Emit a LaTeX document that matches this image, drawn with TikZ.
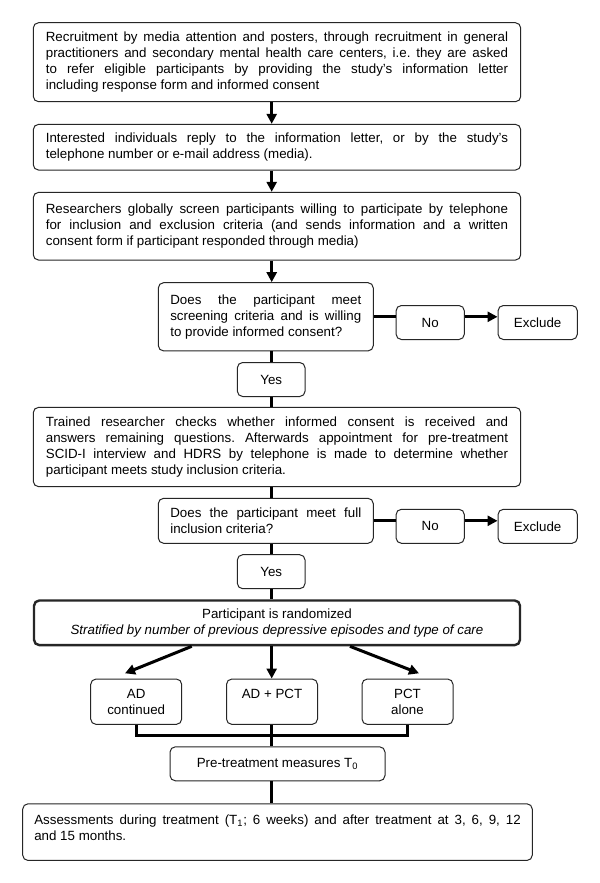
\documentclass[tikz,border=0pt]{standalone}
\usepackage{fontspec}
\setmainfont{Liberation Sans}
\usetikzlibrary{arrows.meta}
\newcommand{\boxfont}{\fontsize{10pt}{12pt}\selectfont\frenchspacing\tolerance=10000\relax\hyphenpenalty=10000\relax}
\begin{document}
\begin{tikzpicture}[x=0.75pt,y=-0.75pt,
  basebox/.style={draw=black!85, line width=0.75pt, rounded corners=4pt, fill=white, inner ysep=0pt,
    font={\boxfont}},
  bigbox/.style={basebox, text width=346.7pt, inner xsep=9.45pt, align=justify, minimum height=#1},
  qbox/.style={basebox, text width=143.25pt, inner xsep=9pt, align=justify, minimum height=#1},
  sbox/.style={basebox, align=center, minimum width=#1, minimum height=25.5pt, inner xsep=0pt},
  armbox/.style={basebox, align=center, minimum width=68.25pt, minimum height=34pt, inner xsep=0pt},
  conn/.style={draw=black, line width=2.25pt},
  arr/.style={conn, -{Triangle[length=7.5pt,width=7.5pt]}},
]
\fill[white] (0,0) rectangle (600,883);
\useasboundingbox (0,0) rectangle (600,883);

\coordinate (spine) at (271.7,0);

\node[bigbox=59.25pt] (rec) at (277,62.2) {Recruitment by media attention and posters, through recruitment in general\linebreak practitioners and secondary mental health care centers, i.e. they are asked\linebreak to refer eligible participants by providing the study’s information letter\linebreak including response form and informed consent};

\node[bigbox=34.3pt] (rep) at (277,147.2) {Interested individuals reply to the information letter, or by the study’s\linebreak telephone number or e-mail address (media).};

\node[bigbox=50.8pt] (scr) at (277,226.2) {Researchers globally screen participants willing to participate by telephone\linebreak for inclusion and exclusion criteria (and sends information and a written\linebreak consent form if participant responded through media)};

\node[qbox=51.2pt] (d1) at (265.8,316.8) {Does the participant meet\linebreak screening criteria and is willing\linebreak to provide informed consent?};
\node[sbox=51.2pt] (no1) at (430.2,322.5) {No};
\node[sbox=59.5pt] (ex1) at (537.7,322.5) {Exclude};
\node[sbox=50.8pt] (yes1) at (271.2,379.5) {Yes};

\node[bigbox=59.5pt] (trn) at (277,447) {Trained researcher checks whether informed consent is received and\linebreak answers remaining questions. Afterwards appointment for pre-treatment\linebreak SCID-I interview and HDRS by telephone is made to determine whether\linebreak participant meets study inclusion criteria.};

\node[qbox=33.75pt] (d2) at (265.8,520.8) {Does the participant meet full\linebreak inclusion criteria?};
\node[sbox=51.2pt] (no2) at (430.2,526.3) {No};
\node[sbox=59.5pt] (ex2) at (537.7,526.3) {Exclude};
\node[sbox=50.8pt] (yes2) at (271.2,571.7) {Yes};

\node[basebox, line width=1.8pt, align=center, minimum width=364.5pt, minimum height=33.5pt, inner xsep=0pt] (rnd) at (277,622.8) {Participant is randomized\\\textit{Stratified by number of previous depressive episodes and type of care}};

\node[armbox] (adc) at (136.2,701.7) {AD\\continued};
\node[armbox] (adp) at (272,701.7) {AD + PCT\\\mbox{}};
\node[armbox] (pct) at (407.5,701.7) {PCT\\alone};

\node[sbox=161.25pt] (pre) at (277.5,763.8) {Pre-treatment measures T\textsubscript{0}};

\node[basebox, text width=364.8pt, inner xsep=8.7pt, align=justify, anchor=north, text height=15.4pt, text depth=27.1pt] (ass) at (277.5,803.3) {Assessments during treatment (T\textsubscript{1}; 6 weeks) and after treatment at 3, 6, 9, 12\linebreak and 15 months.};

% connectors
\draw[arr] (rec.south -| spine) -- (rep.north -| spine);
\draw[arr] (rep.south -| spine) -- (scr.north -| spine);
\draw[arr] (scr.south -| spine) -- (d1.north -| spine);
\draw[conn] (d1.south -| spine) -- (yes1.north -| spine);
\draw[conn] (yes1.south -| spine) -- (trn.north -| spine);
\draw[conn] (trn.south -| spine) -- (d2.north -| spine);
\draw[conn] (d2.south -| spine) -- (yes2.north -| spine);
\draw[conn] (yes2.south -| spine) -- (rnd.north -| spine);

\draw[conn] (d1.east) -- (d1.east -| no1.west);
\draw[arr] (no1.east |- d1.east) -- (ex1.west |- d1.east);
\draw[conn] (d2.east) -- (d2.east -| no2.west);
\draw[arr] (no2.east |- d2.east) -- (ex2.west |- d2.east);

\coordinate (lsx) at (191.7,0);
\coordinate (rsx) at (350,0);
\coordinate (lt) at (125,673.3);
\coordinate (rt) at (419,673.3);
\draw[arr] (rnd.south -| lsx) -- (lt);
\draw[arr] (rnd.south -| spine) -- (adp.north -| spine);
\draw[arr] (rnd.south -| rsx) -- (rt);

\coordinate (brk) at (271.7,735);
\draw[conn] (adc.south) |- (brk) -| (pct.south);
\draw[conn] (adp.south -| spine) -- (pre.north -| spine);
\draw[conn] (pre.south -| spine) -- (ass.north -| spine);
\end{tikzpicture}
\end{document}
